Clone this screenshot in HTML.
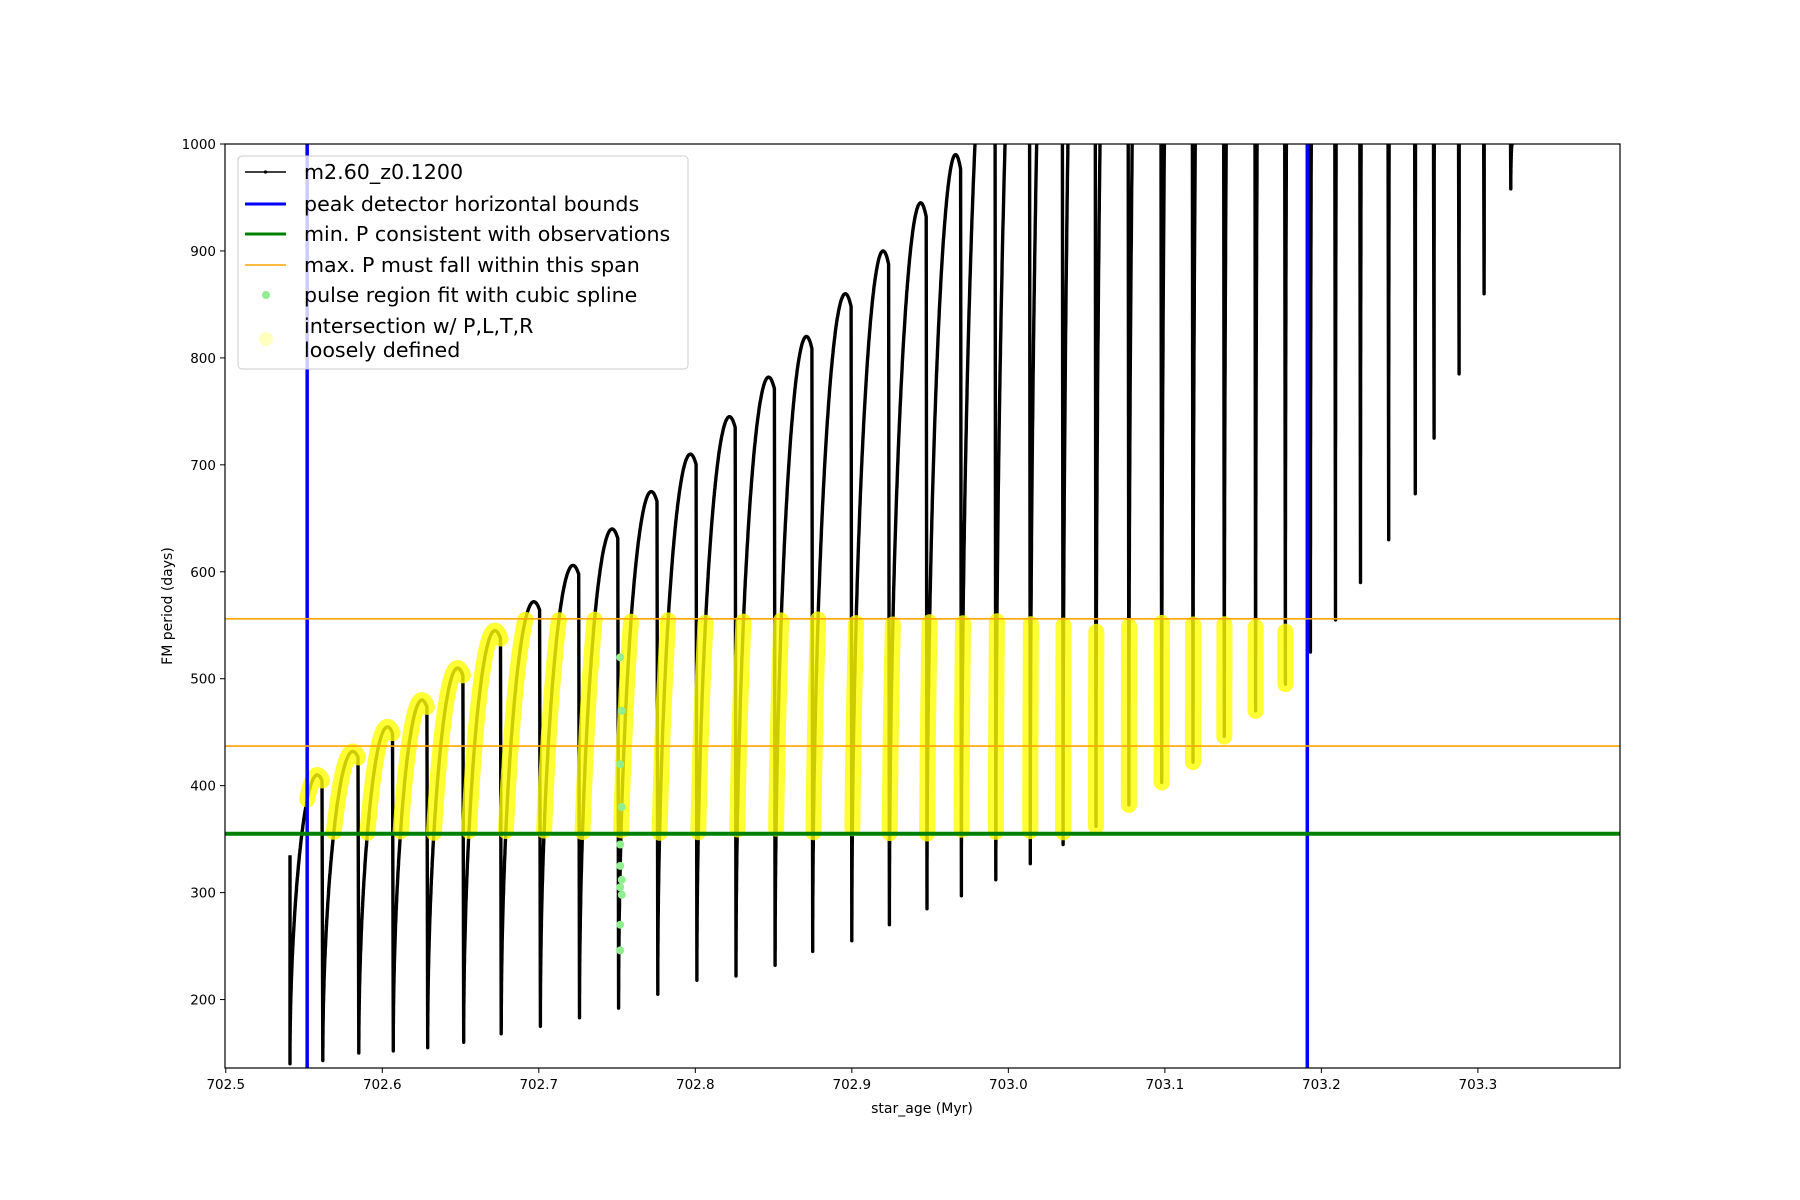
<!DOCTYPE html>
<html><head><meta charset="utf-8"><style>
html,body{margin:0;padding:0;background:#fff}
svg{display:block;font-family:"DejaVu Sans","Liberation Sans",sans-serif}
</style></head><body>
<svg id="chart" width="1800" height="1200" viewBox="0 0 1800 1200" xmlns="http://www.w3.org/2000/svg">
<defs><clipPath id="pc"><rect x="225" y="144" width="1395" height="924"/></clipPath></defs>
<rect x="0" y="0" width="1800" height="1200" fill="#fff"/>
<g id="plot" clip-path="url(#pc)"></g>
<rect x="225" y="144" width="1395" height="924" fill="none" stroke="#000" stroke-width="1.2"/>
<g id="xt"></g>
<g id="yt"></g>
<text x="922" y="1113" font-size="14" text-anchor="middle">star_age (Myr)</text>
<text x="172" y="606" font-size="14" text-anchor="middle" transform="rotate(-90 172 606)">FM period (days)</text>
<g>
<rect x="238" y="156" width="450" height="213" rx="4" fill="#fff" fill-opacity="0.8" stroke="#ccc" stroke-width="1"/>
<line x1="245" y1="172" x2="286" y2="172" stroke="#000" stroke-width="1.5"/><circle cx="265.5" cy="172" r="1.6" fill="#000"/>
<text x="304" y="179" font-size="20.6">m2.60_z0.1200</text>
<line x1="245" y1="204" x2="286" y2="204" stroke="#0000ff" stroke-width="3"/>
<text x="304" y="211" font-size="20.6">peak detector horizontal bounds</text>
<line x1="245" y1="234" x2="286" y2="234" stroke="#008000" stroke-width="3"/>
<text x="304" y="241" font-size="20.6">min. P consistent with observations</text>
<line x1="245" y1="265" x2="286" y2="265" stroke="#ffa500" stroke-width="1.5"/>
<text x="304" y="272" font-size="20.6">max. P must fall within this span</text>
<circle cx="266" cy="295" r="4" fill="#90ee90"/>
<text x="304" y="302" font-size="20.6">pulse region fit with cubic spline</text>
<circle cx="266" cy="339" r="7" fill="#ffff00" fill-opacity="0.25"/>
<text x="304" y="333" font-size="20.6">intersection w/ P,L,T,R</text>
<text x="304" y="357" font-size="20.6">loosely defined</text>
</g>
</svg>
<script>
const cycleTimes=[702.541,702.562,702.585,702.607,702.629,702.652,702.676,702.701,702.726,702.751,702.776,702.801,702.826,702.851,702.875,702.900,702.924,702.948,702.970,702.992,703.014,703.035,703.056,703.077,703.098,703.118,703.138,703.158,703.177,703.193,703.209,703.225,703.243,703.260,703.272,703.288,703.304,703.321];
const cycleMins=[140,143,150,152,155,160,168,175,183,192,205,218,222,232,245,255,270,285,297,312,327,345,362,382,403,422,446,470,495,525,555,590,630,673,725,785,860,958];
const cyclePeaks=[410,432,455,480,510,545,572,606,640,675,710,745,782,820,860,900,945,990,1150,1300,1450,1600,1700,1800,1900,2000,2100,2200,2300,2400,2500,2600,2700,2800,2900,3000,3100,1000];
const startValue=335;
const blueBounds=[702.552,703.191];
const minP=[355];
const maxPSpan=[437,556];
const splineX=[702.752,702.752,702.753,702.752,702.753,702.752,702.752,702.753,702.752,702.753,702.752];
const splineY=[246,270,298,305,312,325,345,380,420,470,520];
const xTicks=[702.5,702.6,702.7,702.8,702.9,703.0,703.1,703.2,703.3];
const yTicks=[200,300,400,500,600,700,800,900,1000];
const X0=702.4995,X1=703.3908,Y0=136,Y1=1000;
const sx=v=>225+(v-X0)/(X1-X0)*1395;
const sy=v=>1068-(v-Y0)/(Y1-Y0)*924;
const NS="http://www.w3.org/2000/svg";
const plot=document.getElementById('plot');
function mk(tag,attrs,parent){const e=document.createElementNS(NS,tag);for(const k in attrs)e.setAttribute(k,attrs[k]);parent.appendChild(e);return e;}
const pts=[[cycleTimes[0],startValue]];
for(let i=0;i<cycleTimes.length;i++){
  const t0=cycleTimes[i],m=cycleMins[i];
  const t1=i+1<cycleTimes.length?cycleTimes[i+1]:t0+0.0015;
  const p=cyclePeaks[i];
  pts.push([t0,m]);
  const N=150;
  for(let k=1;k<=N;k++){const f=Math.pow(k/N,2);const g=Math.pow(Math.sin(Math.PI*f/1.7),0.5);const t=t0+(t1-t0-0.0005)*f;const y=m+(p-m)*g;pts.push([t,y]);}
}
const segs=[];let cur=[];
for(const [t,y] of pts){
  if(t>=blueBounds[0]&&t<=blueBounds[1]&&y>=minP[0]&&y<=maxPSpan[1]){cur.push([t,y]);}
  else{if(cur.length)segs.push(cur);cur=[];}
}
if(cur.length)segs.push(cur);
const d=pts.map((q,i)=>(i?'L':'M')+sx(q[0]).toFixed(1)+' '+sy(Math.min(q[1],1100)).toFixed(1)).join('');
const line=mk('path',{d:d,fill:'none',stroke:'#000','stroke-width':3.4,'stroke-linejoin':'round'},plot);


for(const s of segs){
  let dd=s.map((q,i)=>(i?'L':'M')+sx(q[0]).toFixed(1)+' '+sy(q[1]).toFixed(1)).join('');
  if(s.length==1)dd+='l0 0.1';
  const ye=mk('path',{d:dd,fill:'none',stroke:'#ffff00','stroke-opacity':0.8,'stroke-width':16,'stroke-linecap':'round','stroke-linejoin':'round'},plot);
  
  
}
for(let i=0;i<splineX.length;i++){
  const c=mk('circle',{cx:sx(splineX[i]),cy:sy(splineY[i]),r:4,fill:'#90ee90'},plot);
  
  
}
for(const b of blueBounds){
  const l=mk('line',{x1:sx(b),x2:sx(b),y1:144,y2:1068,stroke:'#0000ff','stroke-width':3.5},plot);
  
  
}
{const l=mk('line',{x1:225,x2:1620,y1:sy(minP[0]),y2:sy(minP[0]),stroke:'#008000','stroke-width':4},plot);

}
for(const v of maxPSpan){
  const l=mk('line',{x1:225,x2:1620,y1:sy(v),y2:sy(v),stroke:'#ffa500','stroke-width':1.6},plot);
  
  
}
const xt=document.getElementById('xt'),yt=document.getElementById('yt');
for(const v of xTicks){
  const x=sx(v);
  mk('line',{x1:x,x2:x,y1:1068,y2:1073,stroke:'#000','stroke-width':1},xt);
  const tx=mk('text',{x:x,y:1089,'font-size':13.5,'text-anchor':'middle'},xt);tx.textContent=v.toFixed(1);
  
  
}
for(const v of yTicks){
  const y=sy(v);
  mk('line',{x1:220,x2:225,y1:y,y2:y,stroke:'#000','stroke-width':1},yt);
  const tx=mk('text',{x:216,y:y+5,'font-size':13.5,'text-anchor':'end'},yt);tx.textContent=v;
  
  
}
</script>
</body></html>
